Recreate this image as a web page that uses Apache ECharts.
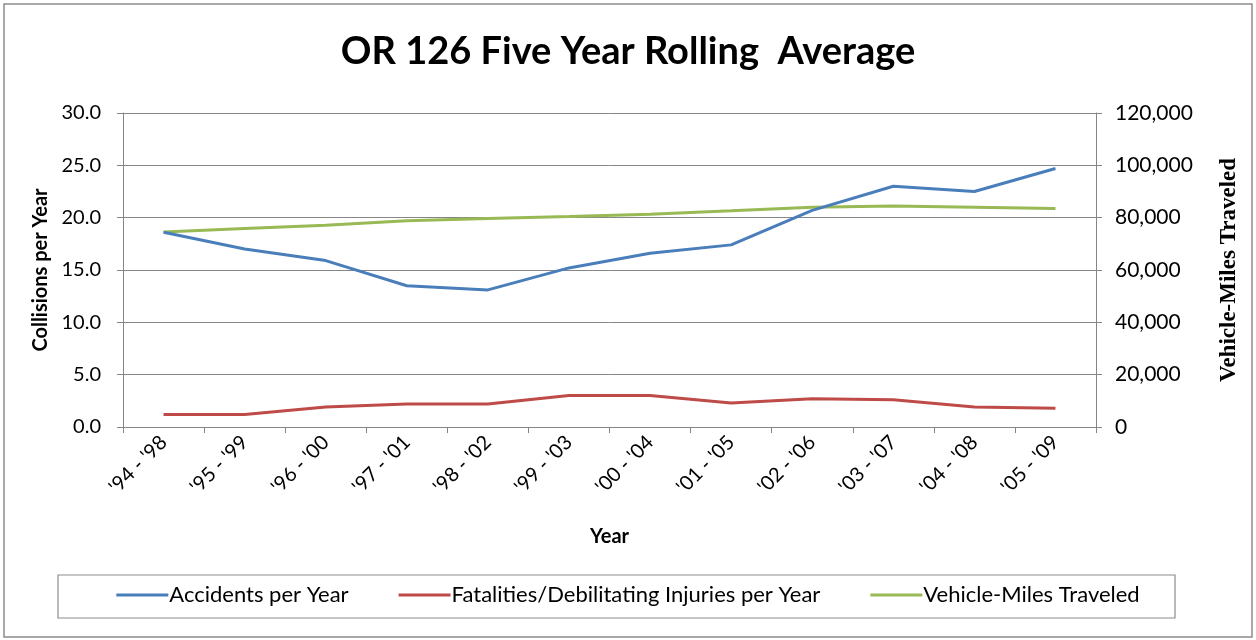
<!DOCTYPE html>
<html><head><meta charset="utf-8">
<script src="https://cdn.jsdelivr.net/npm/echarts@6/dist/echarts.min.js"></script>
<style>html,body{margin:0;padding:0;background:#fff}#c{width:1256px;height:640px}</style>
</head><body><div id="c"></div>
<script>
const categories = ["'94 - '98","'95 - '99","'96 - '00","'97 - '01","'98 - '02","'99 - '03","'00 - '04","'01 - '05","'02 - '06","'03 - '07","'04 - '08","'05 - '09"];
const accidents = [18.6,17.0,15.9,13.5,13.1,15.2,16.6,17.4,20.7,23.0,22.5,24.7];
const fatalities = [1.2,1.2,1.9,2.2,2.2,3.0,3.0,2.3,2.7,2.6,1.9,1.8];
const vmt = [74500,75900,77100,78800,79700,80400,81300,82600,84000,84500,84000,83500];
const leftTicks = {min:0,max:30,interval:5};
const rightTicks = {min:0,max:120000,interval:20000};

const chart = echarts.init(document.getElementById('c'));
const F = 'Lato, "Open Sans", sans-serif';
const gridC = '#868686';
chart.setOption({
  animation:false,
  backgroundColor:'#fff',
  title:{text:'OR 126 Five Year Rolling  Average',left:'center',top:28,
    textStyle:{fontFamily:F,fontSize:38,fontWeight:'bold',color:'#000'}},
  grid:{left:123,right:160,top:113,bottom:213},
  legend:{bottom:29,left:'center',itemWidth:52,itemHeight:3,itemGap:50,
    icon:'rect',
    textStyle:{fontFamily:F,fontSize:22,color:'#000',padding:[0,0,0,-4]},
    data:['Accidents per Year','Fatalities/Debilitating Injuries per Year','Vehicle-Miles Traveled']},
  graphic:[
    {type:'rect',shape:{x:4,y:4,width:1248,height:633},style:{fill:'none',stroke:'#8c8c8c',lineWidth:1.5},silent:true},
    {type:'rect',shape:{x:58,y:575,width:1117,height:43},style:{fill:'none',stroke:'#8c8c8c',lineWidth:1.2},silent:true}
  ],
  xAxis:{type:'category',data:categories,boundaryGap:true,
    name:'Year',nameLocation:'middle',nameGap:100,
    nameTextStyle:{fontFamily:F,fontSize:20,fontWeight:'bold',color:'#000'},
    axisLine:{lineStyle:{color:gridC,width:1}},
    axisTick:{show:true,alignWithLabel:false,length:6,lineStyle:{color:gridC}},
    axisLabel:{rotate:45,fontFamily:F,fontSize:20,color:'#000',margin:12}},
  yAxis:[
    {type:'value',min:leftTicks.min,max:leftTicks.max,interval:leftTicks.interval,
     name:'Collisions per Year',nameLocation:'middle',nameGap:72,
     nameTextStyle:{fontFamily:F,fontSize:20,fontWeight:'bold',color:'#000'},
     axisLine:{show:true,lineStyle:{color:gridC}},
     axisTick:{show:true,length:6,lineStyle:{color:gridC}},
     axisLabel:{fontFamily:F,fontSize:20,color:'#000',margin:22,formatter:v=>v.toFixed(1)},
     splitLine:{show:true,lineStyle:{color:gridC,width:1}}},
    {type:'value',min:rightTicks.min,max:rightTicks.max,interval:rightTicks.interval,position:'right',
     name:'Vehicle-Miles Traveled',nameLocation:'middle',nameGap:122,nameRotate:90,
     nameTextStyle:{fontFamily:'"Liberation Serif","Times New Roman",serif',fontSize:23,fontWeight:'bold',color:'#000'},
     axisLine:{show:true,lineStyle:{color:gridC}},
     axisTick:{show:true,length:6,lineStyle:{color:gridC}},
     axisLabel:{fontFamily:F,fontSize:21,color:'#000',margin:19,formatter:v=>v.toLocaleString('en-US')},
     splitLine:{show:false}}
  ],
  series:[
    {name:'Accidents per Year',type:'line',data:accidents,yAxisIndex:0,symbol:'none',
     lineStyle:{color:'#4A7EBB',width:3},itemStyle:{color:'#4A7EBB'}},
    {name:'Fatalities/Debilitating Injuries per Year',type:'line',data:fatalities,yAxisIndex:0,symbol:'none',
     lineStyle:{color:'#BE4B48',width:3},itemStyle:{color:'#BE4B48'}},
    {name:'Vehicle-Miles Traveled',type:'line',data:vmt,yAxisIndex:1,symbol:'none',z:1,
     lineStyle:{color:'#98B954',width:3},itemStyle:{color:'#98B954'}}
  ]
});
</script></body></html>
